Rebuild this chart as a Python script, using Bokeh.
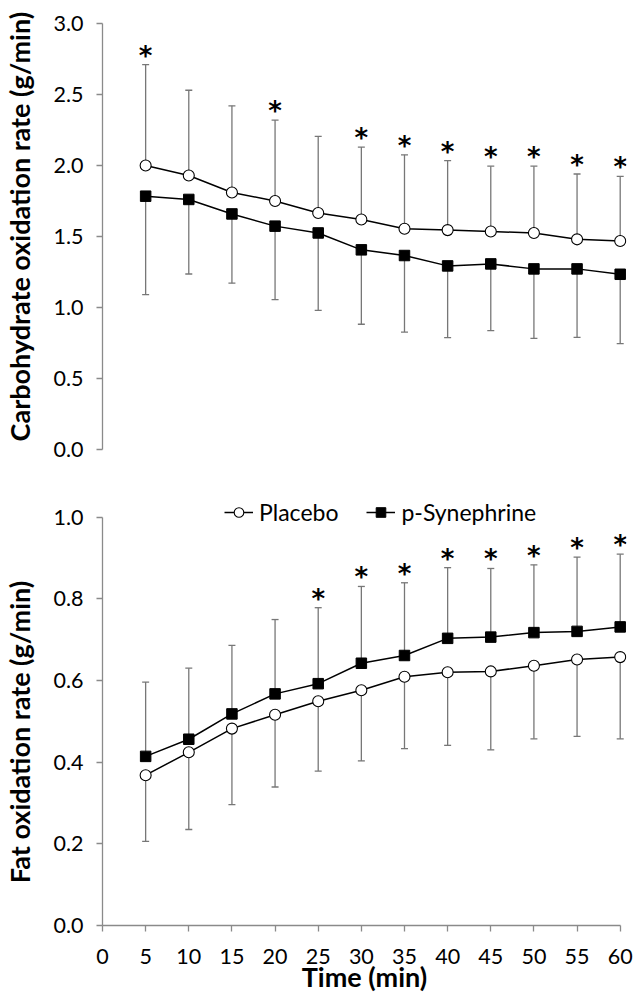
from bokeh.plotting import figure
from bokeh.layouts import column
from bokeh.models import (Range1d, FixedTicker, Whisker, ColumnDataSource, Legend,
                          LegendItem, TeeHead, PrintfTickFormatter)
from bokeh.core.properties import value
from bokeh.embed import file_html
from bokeh.resources import INLINE

# ---------------- data ----------------
time = [5, 10, 15, 20, 25, 30, 35, 40, 45, 50, 55, 60]

cho_placebo = [2.00, 1.93, 1.81, 1.75, 1.665, 1.62, 1.555, 1.545, 1.535, 1.525, 1.48, 1.468]
cho_placebo_sd = [0.71, 0.60, 0.61, 0.57, 0.54, 0.51, 0.52, 0.49, 0.46, 0.47, 0.46, 0.455]
cho_syn = [1.784, 1.761, 1.659, 1.573, 1.525, 1.406, 1.366, 1.293, 1.307, 1.272, 1.272, 1.234]
cho_syn_sd = [0.693, 0.525, 0.488, 0.517, 0.545, 0.524, 0.539, 0.505, 0.470, 0.489, 0.482, 0.489]
cho_sig = [5, 20, 30, 35, 40, 45, 50, 55, 60]

fat_placebo = [0.368, 0.424, 0.482, 0.516, 0.549, 0.576, 0.609, 0.620, 0.622, 0.636, 0.651, 0.657]
fat_placebo_sd = [0.162, 0.189, 0.186, 0.177, 0.171, 0.173, 0.176, 0.179, 0.192, 0.179, 0.188, 0.200]
fat_syn = [0.414, 0.456, 0.518, 0.567, 0.592, 0.642, 0.661, 0.703, 0.706, 0.717, 0.720, 0.731]
fat_syn_sd = [0.182, 0.174, 0.168, 0.182, 0.186, 0.188, 0.178, 0.173, 0.168, 0.166, 0.182, 0.178]
fat_sig = [25, 30, 35, 40, 45, 50, 55, 60]

x_ticks = list(range(0, 61, 5))
cho_ticks = [0, 0.5, 1.0, 1.5, 2.0, 2.5, 3.0]
fat_ticks = [0, 0.2, 0.4, 0.6, 0.8, 1.0]

series_names = ["Placebo", "p-Synephrine"]
ylabels = ["Carbohydrate oxidation rate (g/min)", "Fat oxidation rate (g/min)"]
xlabel = "Time (min)"

# ---------------- style ----------------
FONT = "Lato"
STAR_FONT = "DejaVu Sans"
AXIS_GRAY = "#8a8a8a"
ERR_GRAY = "#777777"
TICK_FS = "21.5px"
TITLE_FS = "27px"
NBSP = "\u00a0"


def style_yaxis(p, ticks, label):
    ax = p.yaxis[0]
    ax.ticker = FixedTicker(ticks=ticks)
    ax.formatter = PrintfTickFormatter(format="%.1f")
    ax.axis_line_color = AXIS_GRAY
    ax.axis_line_width = 1.3
    ax.major_tick_line_color = AXIS_GRAY
    ax.major_tick_line_width = 1.3
    ax.major_tick_out = 6
    ax.major_tick_in = 0
    ax.minor_tick_line_color = None
    ax.major_label_standoff = 13
    ax.major_label_text_font = FONT
    ax.major_label_text_font_size = TICK_FS
    ax.major_label_text_color = "black"
    ax.axis_label = label
    ax.axis_label_text_font = FONT
    ax.axis_label_text_font_size = TITLE_FS
    ax.axis_label_text_font_style = "bold"
    ax.axis_label_text_color = "black"
    ax.axis_label_standoff = 14
    ax.bounds = (ticks[0], ticks[-1])


def base_fig(height, yr, top, bottom, xaxis):
    p = figure(width=634, height=height, output_backend="svg", toolbar_location=None,
               x_range=Range1d(0, 60.73), y_range=yr,
               x_axis_location="below" if xaxis else None,
               min_border_left=102, min_border_right=8,
               min_border_top=top, min_border_bottom=bottom)
    p.outline_line_color = None
    p.xgrid.grid_line_color = None
    p.ygrid.grid_line_color = None
    p.background_fill_color = "white"
    p.border_fill_color = "white"
    return p


def add_whisker(p, src, lower, upper, head_at_top):
    tee = TeeHead(size=7, line_color=ERR_GRAY, line_width=1.3)
    if head_at_top:
        w = Whisker(base="x", lower=lower, upper=upper, source=src, line_color=ERR_GRAY,
                    line_width=1.3, lower_head=None, upper_head=tee)
    else:
        w = Whisker(base="x", lower=lower, upper=upper, source=src, line_color=ERR_GRAY,
                    line_width=1.3, upper_head=None, lower_head=tee)
    p.add_layout(w)


def add_series(p, src, marker):
    l = p.line("x", "y", source=src, line_color="black", line_width=1.5)
    if marker == "circle":
        m = p.scatter("x", "y", source=src, marker="circle", size=11, fill_color="white",
                      line_color="black", line_width=1.1)
    else:
        m = p.scatter("x", "y", source=src, marker="square", size=10.5, fill_color="black",
                      line_color="black")
    return l, m


def add_stars(p, xs, ys):
    src = ColumnDataSource(dict(x=xs, y=ys, t=["*"] * len(xs)))
    p.text("x", "y", text="t", source=src, text_align="center", text_baseline="alphabetic",
           text_font=value(STAR_FONT), text_font_size="26px", text_font_style="bold",
           text_color="black", y_offset=-9)


# ---------------- top panel ----------------
p1 = base_fig(463, Range1d(0, 3.0), 23, 14, False)
style_yaxis(p1, cho_ticks, NBSP * 3 + ylabels[0])

src_cp = ColumnDataSource(dict(x=time, y=cho_placebo,
                               up=[m + s for m, s in zip(cho_placebo, cho_placebo_sd)]))
src_cs = ColumnDataSource(dict(x=time, y=cho_syn,
                               lo=[m - s for m, s in zip(cho_syn, cho_syn_sd)]))
add_whisker(p1, src_cp, "y", "up", True)
add_whisker(p1, src_cs, "lo", "y", False)
add_series(p1, src_cp, "circle")
add_series(p1, src_cs, "square")
add_stars(p1, cho_sig, [cho_placebo[time.index(t)] + cho_placebo_sd[time.index(t)] for t in cho_sig])

# ---------------- bottom panel ----------------
p2 = base_fig(532, Range1d(0, 1.06), 29, 70, True)
style_yaxis(p2, fat_ticks, ylabels[1] + NBSP * 7)
xa = p2.xaxis[0]
xa.ticker = FixedTicker(ticks=x_ticks)
xa.bounds = (0, 60)
xa.axis_line_color = AXIS_GRAY
xa.axis_line_width = 1.3
xa.major_tick_line_color = AXIS_GRAY
xa.major_tick_line_width = 1.3
xa.major_tick_out = 6
xa.major_tick_in = 0
xa.minor_tick_line_color = None
xa.major_label_standoff = 17
xa.major_label_text_font = FONT
xa.major_label_text_font_size = TICK_FS
xa.major_label_text_color = "black"
xa.axis_label = xlabel
xa.axis_label_text_font = FONT
xa.axis_label_text_font_size = TITLE_FS
xa.axis_label_text_font_style = "bold"
xa.axis_label_text_color = "black"
xa.axis_label_standoff = -7

src_fp = ColumnDataSource(dict(x=time, y=fat_placebo,
                               lo=[m - s for m, s in zip(fat_placebo, fat_placebo_sd)]))
src_fs = ColumnDataSource(dict(x=time, y=fat_syn,
                               up=[m + s for m, s in zip(fat_syn, fat_syn_sd)]))
add_whisker(p2, src_fp, "lo", "y", False)
add_whisker(p2, src_fs, "y", "up", True)
lp, mp = add_series(p2, src_fp, "circle")
ls, ms = add_series(p2, src_fs, "square")
add_stars(p2, fat_sig, [fat_syn[time.index(t)] + fat_syn_sd[time.index(t)] for t in fat_sig])

legend = Legend(items=[LegendItem(label=series_names[0], renderers=[lp, mp]),
                       LegendItem(label=series_names[1], renderers=[ls, ms])],
                orientation="horizontal", location=(122, 399),
                border_line_color=None, background_fill_alpha=0,
                padding=0, margin=0, spacing=28, label_standoff=6,
                glyph_width=29, glyph_height=24, label_height=24,
                label_text_font=FONT, label_text_font_size="23px",
                label_text_color="black")
p2.add_layout(legend)

layout = column(p1, p2, spacing=0)
open("out.html", "w").write(file_html(layout, INLINE))
